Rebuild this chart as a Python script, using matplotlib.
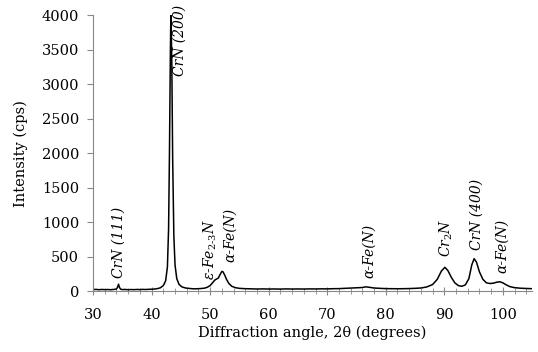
import matplotlib
matplotlib.use('Agg')
import matplotlib.pyplot as plt
from matplotlib.ticker import MultipleLocator

plt.rcParams['font.family'] = ['DejaVu Serif']
plt.rcParams['mathtext.fontset'] = 'dejavuserif'
plt.rcParams['mathtext.default'] = 'it'

# XRD pattern, 2theta (deg) vs intensity (cps)
two_theta = [30, 30.5, 31, 31.5, 32, 32.5, 33, 33.5, 34, 34.2, 34.35, 34.5, 34.7, 35, 35.5,
             36, 36.5, 37, 37.5, 38, 38.5, 39, 39.5, 40, 40.5, 41, 41.5, 42, 42.4, 42.7,
             42.9, 43.05, 43.2, 43.3, 43.45, 43.6, 43.8, 44.0, 44.3, 44.7, 45.2, 45.8, 46.5,
             47, 47.5, 48, 48.5, 49, 49.5, 50, 50.4, 50.8, 51.1, 51.4, 51.7, 52.0, 52.2,
             52.5, 52.8, 53.2, 53.7, 54.3, 55, 56, 57, 58, 59, 60, 61, 62, 63, 64, 65, 66,
             67, 68, 69, 70, 71, 72, 73, 74, 75, 76, 76.6, 77.2, 78, 79, 80, 81, 82, 83,
             84, 85, 86, 87, 88, 88.8, 89.5, 90.1, 90.6, 91.2, 91.8, 92.4, 93, 93.6, 94.2,
             94.7, 95.1, 95.5, 96, 96.6, 97.2, 97.8, 98.4, 99, 99.5, 100, 100.6, 101.2,
             102, 103, 104, 105]
intensity = [22, 25, 20, 24, 21, 23, 20, 24, 30, 60, 100, 55, 28, 22, 24,
             20, 23, 21, 24, 22, 25, 23, 26, 27, 30, 36, 48, 80, 150, 350,
             900, 2000, 3400, 4100, 3300, 1900, 800, 380, 180, 95, 60, 45, 38,
             34, 33, 35, 38, 42, 55, 80, 120, 160, 175, 190, 240, 285, 280,
             230, 170, 110, 70, 50, 40, 35, 33, 30, 32, 30, 31, 29, 32, 30, 31, 30,
             32, 31, 33, 32, 35, 36, 40, 44, 48, 52, 62, 55, 45, 40, 36, 35, 34, 35,
             37, 40, 45, 60, 95, 170, 290, 345, 300, 200, 120, 80, 70, 90, 180,
             380, 470, 420, 280, 170, 120, 110, 115, 130, 135, 120, 90, 65,
             50, 42, 38, 35]

# peak labels: text, x position, y of the text base
peak_labels = ['CrN (111)', 'CrN (200)', 'ε-Fe$_{2\\text{-}3}$N', 'α-Fe(N)',
               'α-Fe(N)', 'Cr$_2$N', 'CrN (400)', 'α-Fe(N)']
label_x = [34.3, 44.8, 50.1, 53.4, 77.1, 90.4, 95.5, 99.8]
label_y = [190, None, 160, 420, 190, 490, 590, 260]

fig = plt.figure(figsize=(5.38, 3.52), dpi=100)
ax = fig.add_axes([0.173, 0.173, 0.816, 0.784])

ax.plot(two_theta, intensity, color='black', lw=1.1)
ax.set_xlim(30, 105)
ax.set_ylim(0, 4000)

for txt, lx, ly in zip(peak_labels, label_x, label_y):
    if ly is None:
        ax.text(lx, 4150, txt, rotation=90, ha='center', va='top',
                fontsize=10, style='italic', clip_on=False)
    else:
        ax.text(lx, ly, txt, rotation=90, ha='center', va='bottom',
                fontsize=10, style='italic')

ax.xaxis.set_major_locator(MultipleLocator(10))
ax.xaxis.set_minor_locator(MultipleLocator(2))
ax.yaxis.set_major_locator(MultipleLocator(500))
ax.tick_params(axis='x', which='major', direction='inout', length=6, color='#888888',
               labelsize=10.5, pad=9)
ax.tick_params(axis='x', which='minor', direction='inout', length=5, color='#888888')
ax.tick_params(axis='y', direction='out', length=4, color='#888888', labelsize=10.5, pad=6)

for s in ['top', 'right']:
    ax.spines[s].set_visible(False)
for s in ['left', 'bottom']:
    ax.spines[s].set_color('#888888')
    ax.spines[s].set_linewidth(0.8)

ax.set_xlabel('Diffraction angle, 2θ (degrees)', fontsize=10.5, labelpad=3)
ax.set_ylabel('Intensity (cps)', fontsize=10.5, labelpad=10)

plt.savefig('out.png', dpi=100)
